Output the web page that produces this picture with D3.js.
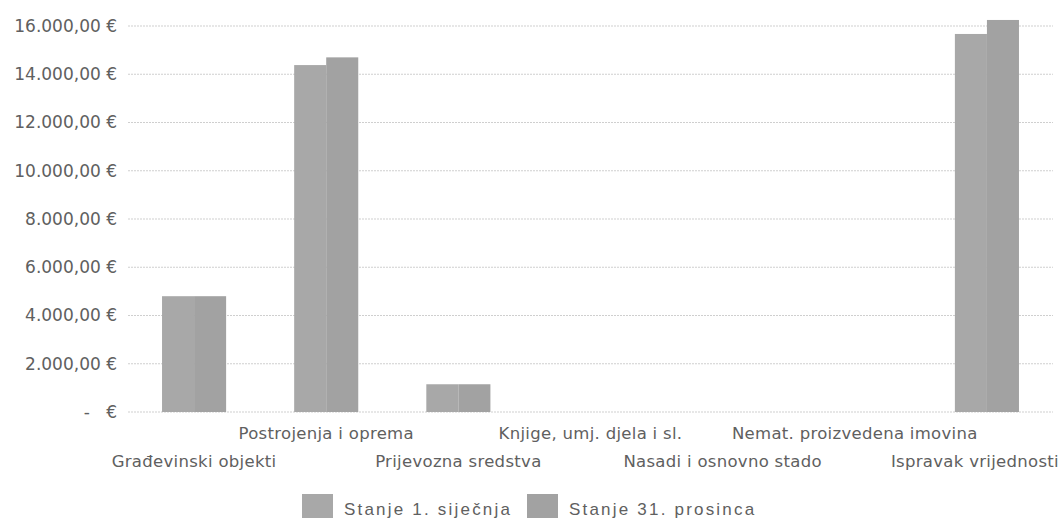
<!DOCTYPE html>
<html>
<head>
<meta charset="utf-8">
<script src="https://cdn.jsdelivr.net/npm/d3@7"></script>
<style>
  body { margin: 0; background: #fff; }
  text { white-space: pre; }
</style>
</head>
<body>
<div id="chart"></div>
<script>
// podaci
const kategorije = ["Građevinski objekti", "Postrojenja i oprema", "Prijevozna sredstva",
  "Knjige, umj. djela i sl.", "Nasadi i osnovno stado", "Nemat. proizvedena imovina", "Ispravak vrijednosti"];
const serije = ["Stanje 1. siječnja", "Stanje 31. prosinca"];
const stanjePocetak = [4800, 14380, 1150, 0, 0, 0, 15670];
const stanjeKraj = [4800, 14700, 1150, 0, 0, 0, 16250];
const yTicks = [0, 2000, 4000, 6000, 8000, 10000, 12000, 14000, 16000];
const boje = ["#a8a8a8", "#a2a2a2"];

const W = 1063, H = 519;
const margin = { top: 26, left: 128, right: 10, bottom: 107 };

const svg = d3.select("#chart").append("svg")
  .attr("width", W).attr("height", H);

const x = d3.scaleBand().domain(kategorije).range([margin.left, 1053]).padding(0);
const y = d3.scaleLinear().domain([0, 16000]).range([412, margin.top]);
const inner = d3.scaleBand().domain(serije).range([0, x.bandwidth() * 0.485]);
const off = (x.bandwidth() - x.bandwidth() * 0.485) / 2;

// gridlines
svg.append("g").selectAll("line").data(yTicks).join("line")
  .attr("x1", margin.left).attr("x2", 1053)
  .attr("y1", d => y(d)).attr("y2", d => y(d))
  .attr("stroke", "#cfcfcf").attr("stroke-width", 1)
  .attr("stroke-dasharray", "2,1");

// y os
const fmt = d3.formatLocale({ decimal: ",", thousands: ".", grouping: [3] }).format(",.2f");
const yAxis = d3.axisLeft(y).tickValues(yTicks).tickSize(0).tickPadding(11)
  .tickFormat(d => d === 0 ? "-   €" : fmt(d) + " €");
svg.append("g").attr("transform", `translate(${margin.left},0)`).call(yAxis)
  .call(g => g.select(".domain").remove())
  .selectAll("text")
  .attr("font-family", "DejaVu Sans, sans-serif")
  .attr("font-size", 17).attr("fill", "#606060");

// stupci
const vrijednosti = [stanjePocetak, stanjeKraj];
serije.forEach((s, si) => {
  svg.append("g").selectAll("rect").data(kategorije).join("rect")
    .attr("x", d => x(d) + off + inner(s))
    .attr("width", inner.bandwidth())
    .attr("y", (d, i) => y(vrijednosti[si][i]))
    .attr("height", (d, i) => y(0) - y(vrijednosti[si][i]))
    .attr("fill", boje[si]);
});

// oznake kategorija, naizmjenično
svg.append("g").selectAll("text").data(kategorije).join("text")
  .attr("x", d => x(d) + x.bandwidth() / 2)
  .attr("y", (d, i) => i % 2 === 0 ? 467 : 439)
  .attr("text-anchor", "middle")
  .attr("font-family", "DejaVu Sans, sans-serif")
  .attr("font-size", 16.5).attr("letter-spacing", 0.3).attr("fill", "#606060")
  .text(d => d)
  .each(function () {
    // zadnja oznaka ne smije izaći iz slike
    const b = this.getBBox();
    if (b.x + b.width > W - 4) d3.select(this).attr("x", +d3.select(this).attr("x") - (b.x + b.width - (W - 4)));
  });

// legenda
const leg = svg.append("g");
const legX = [302, 527];
serije.forEach((s, i) => {
  leg.append("rect").attr("x", legX[i]).attr("y", 494).attr("width", 31).attr("height", 24)
    .attr("fill", boje[i]);
  leg.append("text").attr("x", legX[i] + 42).attr("y", 515)
    .attr("font-family", "Liberation Sans, Arial, sans-serif")
    .attr("font-size", 17).attr("letter-spacing", 2.2).attr("fill", "#606060")
    .text(s);
});
</script>
</body>
</html>
